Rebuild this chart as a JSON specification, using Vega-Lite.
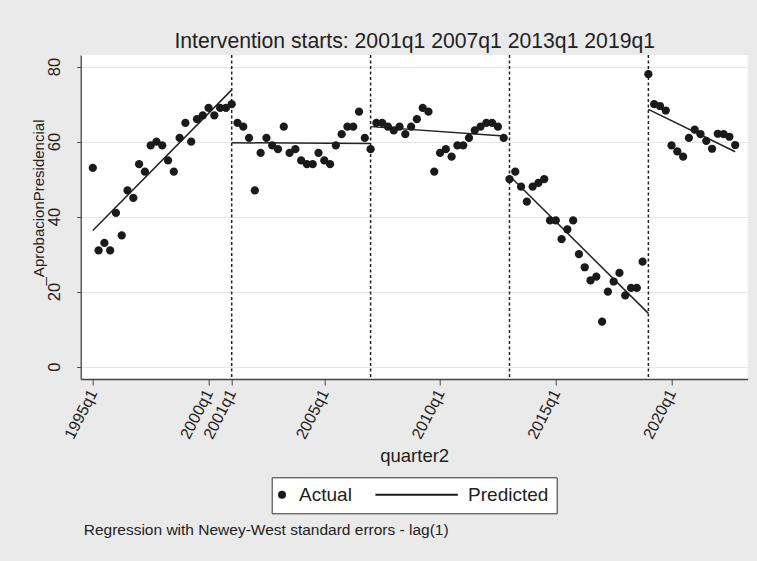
{
  "$schema": "https://vega.github.io/schema/vega-lite/v6.json",
  "width": 667,
  "height": 324,
  "autosize": {"type": "none"},
  "padding": {"left": 80.7, "top": 55, "right": 9.3, "bottom": 182},
  "background": "#EAEAEA",
  "config": {
    "font": "Liberation Sans",
    "view": {"fill": "white", "stroke": null}
  },
  "title": {
    "text": "Regression with Newey-West standard errors - lag(1)",
    "orient": "bottom",
    "anchor": "start",
    "frame": "group",
    "offset": 21,
    "baseline": "alphabetic",
    "fontSize": 15.5,
    "fontWeight": "normal",
    "color": "#222222",
    "dx": 3
  },
  "datasets": {
    "actual": [
      {"q": 0, "v": 53, "series": "Actual"}, {"q": 1, "v": 31, "series": "Actual"}, {"q": 2, "v": 33, "series": "Actual"}, {"q": 3, "v": 31, "series": "Actual"},
      {"q": 4, "v": 41, "series": "Actual"}, {"q": 5, "v": 35, "series": "Actual"}, {"q": 6, "v": 47, "series": "Actual"}, {"q": 7, "v": 45, "series": "Actual"},
      {"q": 8, "v": 54, "series": "Actual"}, {"q": 9, "v": 52, "series": "Actual"}, {"q": 10, "v": 59, "series": "Actual"}, {"q": 11, "v": 60, "series": "Actual"},
      {"q": 12, "v": 59, "series": "Actual"}, {"q": 13, "v": 55, "series": "Actual"}, {"q": 14, "v": 52, "series": "Actual"}, {"q": 15, "v": 61, "series": "Actual"},
      {"q": 16, "v": 65, "series": "Actual"}, {"q": 17, "v": 60, "series": "Actual"}, {"q": 18, "v": 66, "series": "Actual"}, {"q": 19, "v": 67, "series": "Actual"},
      {"q": 20, "v": 69, "series": "Actual"}, {"q": 21, "v": 67, "series": "Actual"}, {"q": 22, "v": 69, "series": "Actual"}, {"q": 23, "v": 69, "series": "Actual"},
      {"q": 24, "v": 70, "series": "Actual"}, {"q": 25, "v": 65, "series": "Actual"}, {"q": 26, "v": 64, "series": "Actual"}, {"q": 27, "v": 61, "series": "Actual"},
      {"q": 28, "v": 47, "series": "Actual"}, {"q": 29, "v": 57, "series": "Actual"}, {"q": 30, "v": 61, "series": "Actual"}, {"q": 31, "v": 59, "series": "Actual"},
      {"q": 32, "v": 58, "series": "Actual"}, {"q": 33, "v": 64, "series": "Actual"}, {"q": 34, "v": 57, "series": "Actual"}, {"q": 35, "v": 58, "series": "Actual"},
      {"q": 36, "v": 55, "series": "Actual"}, {"q": 37, "v": 54, "series": "Actual"}, {"q": 38, "v": 54, "series": "Actual"}, {"q": 39, "v": 57, "series": "Actual"},
      {"q": 40, "v": 55, "series": "Actual"}, {"q": 41, "v": 54, "series": "Actual"}, {"q": 42, "v": 59, "series": "Actual"}, {"q": 43, "v": 62, "series": "Actual"},
      {"q": 44, "v": 64, "series": "Actual"}, {"q": 45, "v": 64, "series": "Actual"}, {"q": 46, "v": 68, "series": "Actual"}, {"q": 47, "v": 61, "series": "Actual"},
      {"q": 48, "v": 58, "series": "Actual"}, {"q": 49, "v": 65, "series": "Actual"}, {"q": 50, "v": 65, "series": "Actual"}, {"q": 51, "v": 64, "series": "Actual"},
      {"q": 52, "v": 63, "series": "Actual"}, {"q": 53, "v": 64, "series": "Actual"}, {"q": 54, "v": 62, "series": "Actual"}, {"q": 55, "v": 64, "series": "Actual"},
      {"q": 56, "v": 66, "series": "Actual"}, {"q": 57, "v": 69, "series": "Actual"}, {"q": 58, "v": 68, "series": "Actual"}, {"q": 59, "v": 52, "series": "Actual"},
      {"q": 60, "v": 57, "series": "Actual"}, {"q": 61, "v": 58, "series": "Actual"}, {"q": 62, "v": 56, "series": "Actual"}, {"q": 63, "v": 59, "series": "Actual"},
      {"q": 64, "v": 59, "series": "Actual"}, {"q": 65, "v": 61, "series": "Actual"}, {"q": 66, "v": 63, "series": "Actual"}, {"q": 67, "v": 64, "series": "Actual"},
      {"q": 68, "v": 65, "series": "Actual"}, {"q": 69, "v": 65, "series": "Actual"}, {"q": 70, "v": 64, "series": "Actual"}, {"q": 71, "v": 61, "series": "Actual"},
      {"q": 72, "v": 50, "series": "Actual"}, {"q": 73, "v": 52, "series": "Actual"}, {"q": 74, "v": 48, "series": "Actual"}, {"q": 75, "v": 44, "series": "Actual"},
      {"q": 76, "v": 48, "series": "Actual"}, {"q": 77, "v": 49, "series": "Actual"}, {"q": 78, "v": 50, "series": "Actual"}, {"q": 79, "v": 39, "series": "Actual"},
      {"q": 80, "v": 39, "series": "Actual"}, {"q": 81, "v": 34, "series": "Actual"}, {"q": 82, "v": 36.6, "series": "Actual"}, {"q": 83, "v": 39, "series": "Actual"},
      {"q": 84, "v": 30, "series": "Actual"}, {"q": 85, "v": 26.5, "series": "Actual"}, {"q": 86, "v": 23, "series": "Actual"}, {"q": 87, "v": 24, "series": "Actual"},
      {"q": 88, "v": 12, "series": "Actual"}, {"q": 89, "v": 20, "series": "Actual"}, {"q": 90, "v": 22.7, "series": "Actual"}, {"q": 91, "v": 25, "series": "Actual"},
      {"q": 92, "v": 19, "series": "Actual"}, {"q": 93, "v": 21, "series": "Actual"}, {"q": 94, "v": 21, "series": "Actual"}, {"q": 95, "v": 28, "series": "Actual"},
      {"q": 96, "v": 78, "series": "Actual"}, {"q": 97, "v": 70, "series": "Actual"}, {"q": 98, "v": 69.5, "series": "Actual"}, {"q": 99, "v": 68.3, "series": "Actual"},
      {"q": 100, "v": 59, "series": "Actual"}, {"q": 101, "v": 57.4, "series": "Actual"}, {"q": 102, "v": 56, "series": "Actual"}, {"q": 103, "v": 61, "series": "Actual"},
      {"q": 104, "v": 63.2, "series": "Actual"}, {"q": 105, "v": 62, "series": "Actual"}, {"q": 106, "v": 60.2, "series": "Actual"}, {"q": 107, "v": 58.1, "series": "Actual"},
      {"q": 108, "v": 62.1, "series": "Actual"}, {"q": 109, "v": 62, "series": "Actual"}, {"q": 110, "v": 61.3, "series": "Actual"}, {"q": 111, "v": 59.1, "series": "Actual"}
    ],
    "pred": [
      {"q": 0, "v": 36.3, "seg": 1}, {"q": 24, "v": 73.8, "seg": 1},
      {"q": 24, "v": 59.7, "seg": 2}, {"q": 48, "v": 59.5, "seg": 2},
      {"q": 48, "v": 64.0, "seg": 3}, {"q": 71, "v": 61.5, "seg": 3},
      {"q": 72, "v": 50.9, "seg": 4}, {"q": 96, "v": 14.2, "seg": 4},
      {"q": 96, "v": 68.6, "seg": 5}, {"q": 111, "v": 57.3, "seg": 5}
    ],
    "iv": [{"q": 24}, {"q": 48}, {"q": 72}, {"q": 96}]
  },
  "resolve": {"axis": {"x": "independent"}},
  "layer": [
    {
      "data": {"name": "iv"},
      "mark": {"type": "rule", "strokeDash": [3, 2.5], "strokeWidth": 1.5, "color": "#222222"},
      "encoding": {
        "x": {
          "field": "q", "type": "quantitative",
          "scale": {"domain": [-2.09, 113.16], "nice": false, "zero": false},
          "axis": {
            "orient": "top",
            "title": "Intervention starts: 2001q1 2007q1 2013q1 2019q1",
            "labels": false, "ticks": false, "domain": false, "grid": false,
            "titleFontSize": 21.2, "titleFontWeight": "normal", "titleColor": "#222222",
            "titleX": 333.5, "titleY": -8, "titleAlign": "center", "titleBaseline": "alphabetic"
          }
        }
      }
    },
    {
      "data": {"name": "pred"},
      "mark": {"type": "line", "strokeWidth": 1.5, "color": "#222222"},
      "encoding": {
        "x": {"field": "q", "type": "quantitative", "scale": {"domain": [-2.09, 113.16], "nice": false, "zero": false}, "axis": null},
        "y": {
          "field": "v", "type": "quantitative",
          "scale": {"domain": [-3.3, 83.1], "nice": false, "zero": false},
          "axis": {
            "title": "_AprobacionPresidencial",
            "values": [0, 20, 40, 60, 80],
            "labelAngle": -90, "labelAlign": "center", "labelBaseline": "alphabetic",
            "labelFontSize": 16.5, "labelColor": "#222222", "labelPadding": 17,
            "tickSize": 4, "tickColor": "#444444", "domainColor": "#444444", "domainWidth": 1.3,
            "grid": true, "gridColor": "#E6E6E6", "gridWidth": 1.2,
            "titleFontSize": 15, "titleFontWeight": "normal", "titleColor": "#222222",
            "titleAngle": -90, "titleX": -37.2, "titleY": 147, "titleAlign": "center", "titleBaseline": "alphabetic"
          }
        },
        "detail": {"field": "seg", "type": "nominal"}
      }
    },
    {
      "data": {"name": "actual"},
      "mark": {"type": "point", "filled": true, "size": 68, "opacity": 1, "color": "#1a1a1a"},
      "encoding": {
        "x": {
          "field": "q", "type": "quantitative",
          "scale": {"domain": [-2.09, 113.16], "nice": false, "zero": false},
          "axis": {
            "orient": "bottom",
            "values": [0, 20, 24, 40, 60, 80, 100],
            "labelExpr": "(floor(datum.value/4)+1995) + 'q' + (datum.value%4+1)",
            "labelOverlap": false,
            "labelAngle": -63, "labelAlign": "right", "labelBaseline": "middle",
            "labelFontSize": 16, "labelColor": "#222222", "labelPadding": 5,
            "tickSize": 6, "tickColor": "#444444", "domainColor": "#444444", "domainWidth": 1.3,
            "grid": false,
            "title": "quarter2",
            "titleFontSize": 18.5, "titleFontWeight": "normal", "titleColor": "#222222",
            "titleX": 333.5, "titleY": 82.7, "titleAlign": "center", "titleBaseline": "alphabetic"
          }
        },
        "y": {
          "field": "v", "type": "quantitative",
          "scale": {"domain": [-3.3, 83.1], "nice": false, "zero": false},
          "axis": {
            "title": "_AprobacionPresidencial",
            "values": [0, 20, 40, 60, 80],
            "labelAngle": -90, "labelAlign": "center", "labelBaseline": "alphabetic",
            "labelFontSize": 16.5, "labelColor": "#222222", "labelPadding": 17,
            "tickSize": 4, "tickColor": "#444444", "domainColor": "#444444", "domainWidth": 1.3,
            "grid": true, "gridColor": "#E6E6E6", "gridWidth": 1.2,
            "titleFontSize": 15, "titleFontWeight": "normal", "titleColor": "#222222",
            "titleAngle": -90, "titleX": -37.2, "titleY": 147, "titleAlign": "center", "titleBaseline": "alphabetic"
          }
        },
        "shape": {
          "field": "series", "type": "nominal",
          "scale": {"domain": ["Actual", "Predicted"], "range": ["circle", "M-18.9,-0.22H1.7V0.22H-18.9Z"]},
          "legend": {
            "orient": "none", "legendX": 191, "legendY": 422.3,
            "direction": "horizontal", "title": null,
            "labelFontSize": 19, "labelColor": "#222222", "labelOffset": 7.6,
            "symbolSize": 64, "symbolStrokeWidth": 0, "symbolOffset": -6.9,
            "symbolFillColor": "#1a1a1a",
            "columnPadding": 23, "padding": 7.7,
            "strokeColor": "#333333", "fillColor": "white"
          }
        }
      }
    }
  ]
}
